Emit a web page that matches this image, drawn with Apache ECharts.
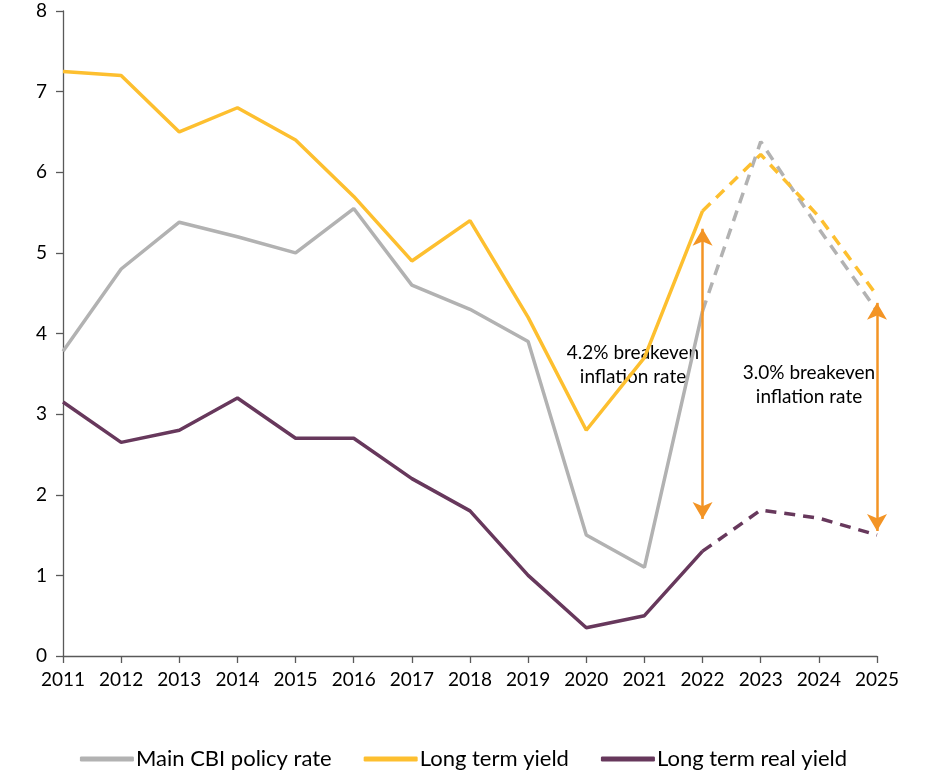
<!DOCTYPE html>
<html><head><meta charset="utf-8">
<script src="https://cdn.jsdelivr.net/npm/echarts@6/dist/echarts.min.js"></script>
<style>html,body{margin:0;padding:0;background:#fff}#c{width:927px;height:771px}</style>
</head><body><div id="c"></div>
<script>
const years = ['2011','2012','2013','2014','2015','2016','2017','2018','2019','2020','2021','2022','2023','2024','2025'];
const policyRate = [3.78, 4.8, 5.38, 5.2, 5.0, 5.55, 4.6, 4.3, 3.9, 1.5, 1.1, 4.28, 6.38, 5.3, 4.28];
const longYield = [7.25, 7.2, 6.5, 6.8, 6.4, 5.7, 4.9, 5.4, 4.2, 2.8, 3.7, 5.52, 6.22, 5.45, 4.47];
const realYield = [3.15, 2.65, 2.8, 3.2, 2.7, 2.7, 2.2, 1.8, 1.0, 0.35, 0.5, 1.3, 1.81, 1.71, 1.5];
const forecastStart = 11; // index of 2022: dashed from here on
const breakevenArrows = [
  {year: '2022', from: 1.7, to: 5.3, label: '4.2% breakeven\ninflation rate'},
  {year: '2025', from: 1.55, to: 4.38, label: '3.0% breakeven\ninflation rate'}
];
const yTicks = {min: 0, max: 8, interval: 1};

const FONT = 'Lato';
const colors = {policy: '#B2B2B2', yield: '#FDBF2F', real: '#67385C', arrow: '#F39425'};

const solid = arr => arr.map((v, i) => i <= forecastStart ? v : null);
const dashed = arr => arr.map((v, i) => i >= forecastStart ? v : null);

function lineSeries(name, data, color, type) {
  return {
    name, type: 'line', data, symbol: 'none', connectNulls: false,
    lineStyle: {color, width: 3.5, type},
    itemStyle: {color},
    emphasis: {disabled: true}, z: 3
  };
}

const arrowSeries = {
  name: 'arrows', type: 'line', data: [], symbol: 'none', silent: true,
  markLine: {
    silent: true,
    symbol: ['arrow', 'arrow'],
    symbolSize: [15, 17],
    lineStyle: {color: colors.arrow, width: 2.5, type: 'solid'},
    label: {show: false},
    data: breakevenArrows.map(a => [
      {coord: [a.year, a.from]},
      {coord: [a.year, a.to]}
    ])
  }
};

const chart = echarts.init(document.getElementById('c'), null, {renderer: 'canvas'});
chart.setOption({
  animation: false,
  backgroundColor: '#fff',
  textStyle: {fontFamily: FONT},
  grid: {left: 63, right: 50, top: 11, bottom: 115, containLabel: false},
  xAxis: {
    type: 'category', data: years, boundaryGap: false,
    axisLine: {lineStyle: {color: '#595959', width: 1.3}},
    axisTick: {show: true, alignWithLabel: true, length: 7, lineStyle: {color: '#595959', width: 1.3}},
    axisLabel: {color: '#000', fontSize: 19, fontFamily: FONT, margin: 14, interval: 0},
    splitLine: {show: false}
  },
  yAxis: {
    type: 'value', min: yTicks.min, max: yTicks.max, interval: yTicks.interval,
    axisLine: {show: true, lineStyle: {color: '#595959', width: 1.3}},
    axisTick: {show: true, length: 7, lineStyle: {color: '#595959', width: 1.3}},
    axisLabel: {color: '#000', fontSize: 19, fontFamily: FONT, margin: 16},
    splitLine: {show: false}
  },
  legend: {
    bottom: -4, left: 'center', itemGap: 32, itemWidth: 54, itemHeight: 5,
    icon: 'roundRect',
    textStyle: {color: '#000', fontSize: 22, fontFamily: FONT, padding: [0, 0, 0, -3]},
    data: [
      {name: 'Main CBI policy rate', itemStyle: {color: colors.policy}},
      {name: 'Long term yield', itemStyle: {color: colors.yield}},
      {name: 'Long term real yield', itemStyle: {color: colors.real}}
    ]
  },
  series: [
    lineSeries('Main CBI policy rate', solid(policyRate), colors.policy, 'solid'),
    lineSeries('Main CBI policy rate', dashed(policyRate), colors.policy, [11, 8]),
    lineSeries('Long term yield', solid(longYield), colors.yield, 'solid'),
    lineSeries('Long term yield', dashed(longYield), colors.yield, [11, 8]),
    lineSeries('Long term real yield', solid(realYield), colors.real, 'solid'),
    lineSeries('Long term real yield', dashed(realYield), colors.real, [11, 8]),
    arrowSeries
  ],
  graphic: [
    {type: 'text', x: 633, y: 341, style: {text: breakevenArrows[0].label, font: '19px ' + FONT, fill: '#000', align: 'center', verticalAlign: 'top', lineHeight: 24}},
    {type: 'text', x: 809, y: 361, style: {text: breakevenArrows[1].label, font: '19px ' + FONT, fill: '#000', align: 'center', verticalAlign: 'top', lineHeight: 24}}
  ]
});
</script></body></html>
